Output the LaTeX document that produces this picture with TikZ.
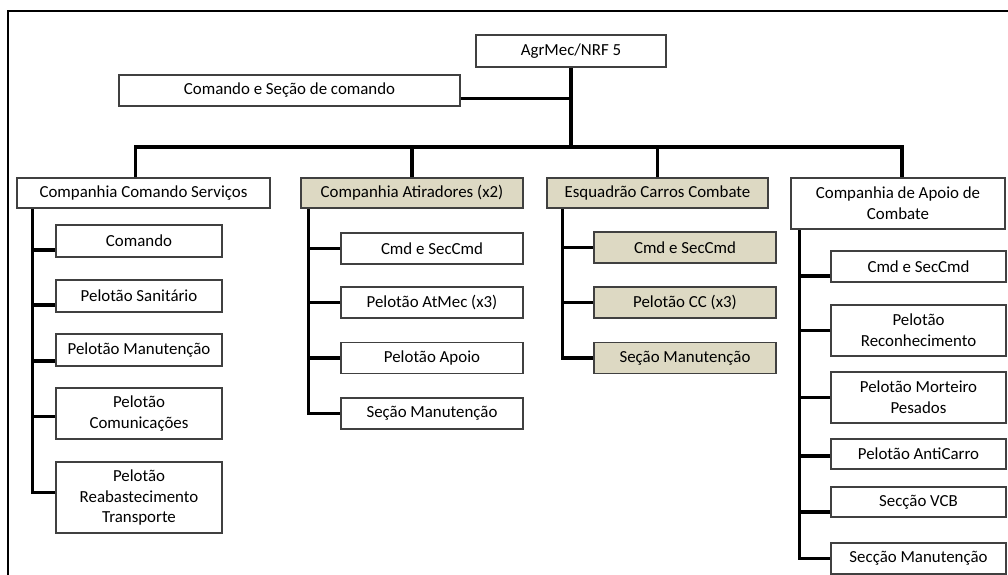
\documentclass[tikz,border=0pt]{standalone}
\usepackage{fontspec}
\setmainfont{Carlito}
\definecolor{tanfill}{HTML}{DDD9C3}

\begin{document}
\begin{tikzpicture}[x=0.025cm,y=-0.025cm,
    unit/.style={draw=black!75,line width=0.8pt,fill=white,inner sep=1pt,align=center,
      font=\fontsize{12}{14.7}\selectfont,minimum height=0.775cm},
    tanunit/.style={unit,fill=tanfill},
    link/.style={line width=2.2pt},
    frame/.style={line width=1.3pt}]
    \useasboundingbox (0,0) rectangle (1008,574);
    \draw[frame] (8,580) -- (8,11) -- (1012,11);

    % top level
    \node[unit,minimum width=4.75cm,minimum height=0.8cm] (agr) at (571,51) {AgrMec/NRF 5};
    \node[unit,minimum width=8.525cm] (csc) at (289.5,90.5) {Comando e Seção de comando};

    % companies
    \node[unit,minimum width=6.325cm,minimum height=0.75cm] (ccs) at (143.5,193) {Companhia Comando Serviços};
    \node[tanunit,minimum width=5.55cm,minimum height=0.75cm] (atir) at (412,193) {Companhia Atiradores (x2)};
    \node[tanunit,minimum width=5.525cm,minimum height=0.75cm] (esq) at (657.5,193) {Esquadrão Carros Combate};
    \node[unit,minimum width=5.35cm,minimum height=1.275cm] (apo) at (898,203.5) {Companhia de Apoio de\\Combate};

    % Companhia Comando Servicos
    \node[unit,minimum width=4.15cm,minimum height=0.8cm] (c1) at (139,241) {Comando};
    \node[unit,minimum width=4.15cm,minimum height=0.8cm] (c2) at (139,296) {Pelotão Sanitário};
    \node[unit,minimum width=4.15cm,minimum height=0.8cm] (c3) at (139,350) {Pelotão Manutenção};
    \node[unit,minimum width=4.15cm,minimum height=1.275cm] (c4) at (139,413.5) {Pelotão\\Comunicações};
    \node[unit,minimum width=4.15cm,minimum height=1.775cm] (c5) at (139,497.5) {Pelotão\\Reabastecimento\\Transporte};

    % Companhia Atiradores
    \node[unit,minimum width=4.55cm] (a1) at (432,248.5) {Cmd e SecCmd};
    \node[unit,minimum width=4.55cm] (a2) at (432,302.5) {Pelotão AtMec (x3)};
    \node[unit,minimum width=4.55cm] (a3) at (432,358) {Pelotão Apoio};
    \node[unit,minimum width=4.55cm] (a4) at (432,413.5) {Seção Manutenção};

    % Esquadrao Carros Combate
    \node[tanunit,minimum width=4.55cm] (e1) at (685,247.5) {Cmd e SecCmd};
    \node[tanunit,minimum width=4.55cm] (e2) at (685,302.5) {Pelotão CC (x3)};
    \node[tanunit,minimum width=4.55cm] (e3) at (685,358) {Seção Manutenção};

    % Companhia de Apoio de Combate
    \node[unit,minimum width=4.375cm] (p1) at (918.5,266.5) {Cmd e SecCmd};
    \node[unit,minimum width=4.375cm,minimum height=1.275cm] (p2) at (918.5,330.5) {Pelotão\\Reconhecimento};
    \node[unit,minimum width=4.375cm,minimum height=1.275cm] (p3) at (918.5,397.5) {Pelotão Morteiro\\Pesados};
    \node[unit,minimum width=4.375cm,minimum height=0.75cm] (p4) at (918.5,454) {Pelotão AntiCarro};
    \node[unit,minimum width=4.375cm,minimum height=0.75cm] (p5) at (918.5,502) {Secção VCB};
    \node[unit,minimum width=4.375cm] (p6) at (918.5,558.5) {Secção Manutenção};

    % connectors
    \coordinate (hub) at (571,147);
    \draw[link] (agr.south) -- (hub);
    \draw[link] ([yshift=-0.21cm]csc.east) -- ([yshift=-0.21cm]csc.east -| agr.south);
    \draw[link] ([xshift=-0.19cm]ccs.north) |- (hub) -| ([xshift=0.1cm]apo.north);
    \draw[link] (atir.north) -- (atir.north |- hub);
    \draw[link] (esq.north) -- (esq.north |- hub);

    \coordinate (ccstop) at ([xshift=0.4cm]ccs.south west);
    \foreach \n/\s in {c1/-0.225,c2/-0.225,c3/-0.275,c4/-0.075,c5/0.125}
      \draw[link] ([yshift=\s cm]\n.west) -| (ccstop);

    \coordinate (atirtop) at ([xshift=0.2cm]atir.south west);
    \foreach \n in {a1,a2,a3,a4}
      \draw[link] (\n.west) -| (atirtop);

    \coordinate (esqtop) at ([xshift=0.4cm]esq.south west);
    \foreach \n in {e1,e2,e3}
      \draw[link] (\n.west) -| (esqtop);

    \coordinate (apotop) at ([xshift=0.225cm]apo.south west);
    \foreach \n/\s in {p1/-0.2375,p2/0,p3/0,p4/-0.05,p5/-0.25,p6/0}
      \draw[link] ([yshift=\s cm]\n.west) -| (apotop);
\end{tikzpicture}
\end{document}
